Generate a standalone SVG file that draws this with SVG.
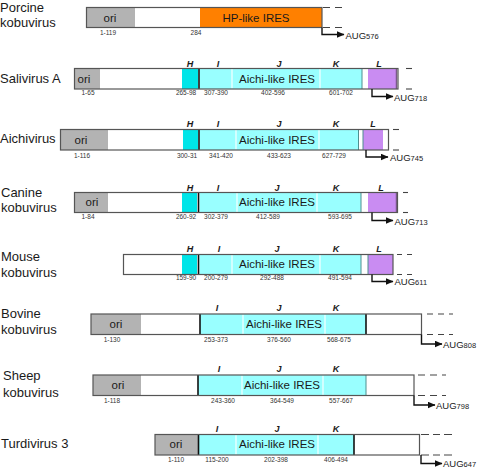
<svg xmlns="http://www.w3.org/2000/svg" width="480" height="468" viewBox="0 0 480 468">
<style>
text{font-family:"Liberation Sans",Arial,sans-serif;fill:#1a1a1a}
.name{font-size:13px}
.lab{font-size:11.5px;text-anchor:middle}
.num{font-size:6.5px;text-anchor:middle;fill:#333}
.let{font-size:9px;font-weight:bold;font-style:italic;text-anchor:middle}
.aug{font-size:9.5px}
.sub{font-size:7.5px}
.bg{fill:#fff}
.ori{fill:#b3b3b3}
.hp{fill:#ff8000}
.h{fill:#00e5e8}
.ires{fill:#99ffff}
.l{fill:#c98cf2}
.ol{fill:none;stroke:#555;stroke-width:1.2}
.sep{stroke:#111;stroke-width:1.6}
.gap{stroke:#eaffff;stroke-width:1.4}
.tl{stroke:#4f8f8f;stroke-width:1}
.pe{stroke:#7a5a8a;stroke-width:1.5}
.dash{stroke:#444;stroke-width:1.1;fill:none}
.arr{fill:none;stroke:#111;stroke-width:1.4}
</style>
<defs>
<marker id="ah" markerUnits="userSpaceOnUse" markerWidth="8" markerHeight="7" refX="7.5" refY="3.5" orient="auto">
<path d="M0,0 L8,3.5 L0,7 Z" fill="#111"/>
</marker>
</defs>

<g id="porcine">
<text class="name" x="0" y="11.5">Porcine</text>
<text class="name" x="0" y="27">kobuvirus</text>
<rect class="bg" x="86.5" y="7.5" width="235.5" height="20"/>
<rect class="ori" x="86.5" y="7.5" width="48.5" height="20"/>
<rect class="hp" x="200" y="7.5" width="122" height="20"/>
<rect class="ol" x="86.5" y="7.5" width="235.5" height="20"/>
<line class="dash" x1="323" y1="7.5" x2="345" y2="7.5" stroke-dasharray="7 5"/>
<line class="dash" x1="323" y1="27.5" x2="345" y2="27.5" stroke-dasharray="7 5"/>
<text class="lab" x="110" y="21.5">ori</text>
<text class="lab" x="256" y="21.5">HP-like IRES</text>
<text class="num" x="108" y="35">1-119</text>
<text class="num" x="196" y="35">284</text>
</g>

<g id="salivirus">
<text class="name" x="0" y="83">Salivirus A</text>
<rect class="bg" x="74.5" y="68.5" width="323" height="20.5"/>
<rect class="ori" x="74.5" y="68.5" width="25.5" height="20.5"/>
<rect class="h" x="182" y="68.5" width="16" height="20.5"/>
<rect class="ires" x="200" y="68.5" width="162" height="20.5"/>
<line class="gap" x1="232" y1="69" x2="232" y2="88.5"/>
<line class="gap" x1="320" y1="69" x2="320" y2="88.5"/>
<line class="sep" x1="199" y1="68.5" x2="199" y2="89"/>
<line class="tl" x1="362" y1="68.5" x2="362" y2="89"/>
<rect class="l" x="368" y="68.5" width="28.5" height="20.5"/>
<line class="pe" x1="396.5" y1="68.5" x2="396.5" y2="89"/>
<rect class="ol" x="74.5" y="68.5" width="323.5" height="20.5"/>
<line class="dash" x1="406" y1="68.5" x2="412" y2="68.5"/>
<line class="dash" x1="406" y1="89" x2="412" y2="89"/>
<text class="lab" x="84" y="82.5">ori</text>
<text class="lab" x="277" y="82.5">Aichi-like IRES</text>
<text class="let" x="190" y="66.5">H</text>
<text class="let" x="218" y="66.5">I</text>
<text class="let" x="279" y="66.5">J</text>
<text class="let" x="336" y="66.5">K</text>
<text class="let" x="379" y="66.5">L</text>
<text class="num" x="88" y="95">1-65</text>
<text class="num" x="186" y="95">265-98</text>
<text class="num" x="216" y="95">307-390</text>
<text class="num" x="273" y="95">402-596</text>
<text class="num" x="341" y="95">601-702</text>
</g>

<g id="aichivirus">
<text class="name" x="0" y="143">Aichivirus</text>
<rect class="bg" x="60.5" y="129.5" width="328" height="20.5"/>
<rect class="ori" x="60.5" y="129.5" width="47.5" height="20.5"/>
<rect class="h" x="183" y="129.5" width="15" height="20.5"/>
<rect class="ires" x="200" y="129.5" width="158" height="20.5"/>
<line class="gap" x1="236" y1="130" x2="236" y2="149.5"/>
<line class="gap" x1="319" y1="130" x2="319" y2="149.5"/>
<line class="sep" x1="199" y1="129.5" x2="199" y2="150"/>
<line class="tl" x1="358.5" y1="129.5" x2="358.5" y2="150"/>
<rect class="l" x="363" y="129.5" width="20" height="20.5"/>
<line class="tl" x1="363" y1="129.5" x2="363" y2="150"/>
<rect class="ol" x="60.5" y="129.5" width="328" height="20.5"/>
<line class="dash" x1="393" y1="129.5" x2="399" y2="129.5"/>
<line class="dash" x1="393" y1="150" x2="399" y2="150"/>
<text class="lab" x="81" y="144">ori</text>
<text class="lab" x="277" y="144">Aichi-like IRES</text>
<text class="let" x="190" y="127">H</text>
<text class="let" x="218" y="127">I</text>
<text class="let" x="279" y="127">J</text>
<text class="let" x="336" y="127">K</text>
<text class="let" x="373" y="127">L</text>
<text class="num" x="82" y="158">1-116</text>
<text class="num" x="187" y="158">300-31</text>
<text class="num" x="221" y="158">341-420</text>
<text class="num" x="279" y="158">433-623</text>
<text class="num" x="334" y="158">627-729</text>
</g>

<g id="canine">
<text class="name" x="1" y="196.5">Canine</text>
<text class="name" x="1" y="212">kobuvirus</text>
<rect class="bg" x="74.5" y="192.5" width="323" height="20"/>
<rect class="ori" x="74.5" y="192.5" width="33.5" height="20"/>
<rect class="h" x="182" y="192.5" width="15" height="20"/>
<rect class="ires" x="199.5" y="192.5" width="161.5" height="20"/>
<line class="gap" x1="237" y1="193" x2="237" y2="212"/>
<line class="gap" x1="317" y1="193" x2="317" y2="212"/>
<line class="sep" x1="198.5" y1="192.5" x2="198.5" y2="212.5"/>
<line class="tl" x1="361" y1="192.5" x2="361" y2="212.5"/>
<rect class="l" x="368" y="192.5" width="28.5" height="20"/>
<line class="pe" x1="396.5" y1="192.5" x2="396.5" y2="212.5"/>
<rect class="ol" x="74.5" y="192.5" width="323" height="20"/>
<line class="dash" x1="403" y1="192.5" x2="408" y2="192.5"/>
<line class="dash" x1="403" y1="212.5" x2="408" y2="212.5"/>
<text class="lab" x="92" y="206">ori</text>
<text class="lab" x="277" y="206">Aichi-like IRES</text>
<text class="let" x="190" y="190.5">H</text>
<text class="let" x="218" y="190.5">I</text>
<text class="let" x="277" y="190.5">J</text>
<text class="let" x="336" y="190.5">K</text>
<text class="let" x="381" y="190.5">L</text>
<text class="num" x="88" y="219">1-84</text>
<text class="num" x="186" y="219">260-92</text>
<text class="num" x="216" y="219">302-379</text>
<text class="num" x="268" y="219">412-589</text>
<text class="num" x="340" y="219">593-695</text>
</g>

<g id="mouse">
<text class="name" x="1" y="261">Mouse</text>
<text class="name" x="1" y="277">kobuvirus</text>
<rect class="bg" x="123.5" y="254.5" width="269.5" height="20"/>
<rect class="h" x="182" y="254.5" width="15" height="20"/>
<rect class="ires" x="199.5" y="254.5" width="161.5" height="20"/>
<line class="gap" x1="232" y1="255" x2="232" y2="274"/>
<line class="gap" x1="320" y1="255" x2="320" y2="274"/>
<line class="sep" x1="198.5" y1="254.5" x2="198.5" y2="274.5"/>
<line class="tl" x1="361" y1="254.5" x2="361" y2="274.5"/>
<rect class="l" x="368" y="254.5" width="25" height="20"/>
<line class="tl" x1="368" y1="254.5" x2="368" y2="274.5"/>
<rect class="ol" x="123.5" y="254.5" width="269.5" height="20"/>
<line class="dash" x1="397" y1="254.5" x2="413" y2="254.5" stroke-dasharray="5 5"/>
<line class="dash" x1="397" y1="274.5" x2="413" y2="274.5" stroke-dasharray="5 5"/>
<text class="lab" x="277" y="268">Aichi-like IRES</text>
<text class="let" x="190" y="251.5">H</text>
<text class="let" x="219" y="251.5">I</text>
<text class="let" x="277" y="251.5">J</text>
<text class="let" x="336" y="251.5">K</text>
<text class="let" x="379" y="251.5">L</text>
<text class="num" x="186" y="280">159-90</text>
<text class="num" x="216" y="280">200-279</text>
<text class="num" x="272" y="280">292-488</text>
<text class="num" x="340" y="280">491-594</text>
</g>

<g id="bovine">
<text class="name" x="1" y="318">Bovine</text>
<text class="name" x="1" y="334">kobuvirus</text>
<rect class="bg" x="91" y="314" width="330.5" height="20.5"/>
<rect class="ori" x="91" y="314" width="50" height="20.5"/>
<rect class="ires" x="200" y="314" width="166" height="20.5"/>
<line class="gap" x1="243" y1="314.5" x2="243" y2="334"/>
<line class="gap" x1="325" y1="314.5" x2="325" y2="334"/>
<line class="sep" x1="200" y1="314" x2="200" y2="334.5"/>
<line class="sep" x1="366" y1="314" x2="366" y2="334.5"/>
<rect class="ol" x="91" y="314" width="330.5" height="20.5"/>
<line class="dash" x1="427" y1="314" x2="453" y2="314" stroke-dasharray="6 5"/>
<line class="dash" x1="427" y1="334.5" x2="453" y2="334.5" stroke-dasharray="6 5"/>
<text class="lab" x="116" y="328">ori</text>
<text class="lab" x="284" y="328">Aichi-like IRES</text>
<text class="let" x="217" y="310.5">I</text>
<text class="let" x="279" y="310.5">J</text>
<text class="let" x="336" y="310.5">K</text>
<text class="num" x="112" y="342">1-130</text>
<text class="num" x="216" y="342">253-373</text>
<text class="num" x="279" y="342">376-560</text>
<text class="num" x="339" y="342">568-675</text>
</g>

<g id="sheep">
<text class="name" x="3" y="380">Sheep</text>
<text class="name" x="3" y="396.5">kobuvirus</text>
<rect class="bg" x="93" y="375" width="321" height="20.5"/>
<rect class="ori" x="93" y="375" width="48" height="20.5"/>
<rect class="ires" x="198" y="375" width="168" height="20.5"/>
<line class="gap" x1="242" y1="375.5" x2="242" y2="395"/>
<line class="gap" x1="323" y1="375.5" x2="323" y2="395"/>
<line class="sep" x1="198" y1="375" x2="198" y2="395.5"/>
<line class="tl" x1="366" y1="375" x2="366" y2="395.5"/>
<rect class="ol" x="93" y="375" width="321" height="20.5"/>
<line class="dash" x1="418" y1="375" x2="446" y2="375" stroke-dasharray="7 5"/>
<line class="dash" x1="418" y1="395.5" x2="446" y2="395.5" stroke-dasharray="7 5"/>
<text class="lab" x="118" y="389">ori</text>
<text class="lab" x="282" y="389">Aichi-like IRES</text>
<text class="let" x="219" y="371.5">I</text>
<text class="let" x="279" y="371.5">J</text>
<text class="let" x="336" y="371.5">K</text>
<text class="num" x="112" y="403">1-118</text>
<text class="num" x="223" y="403">243-360</text>
<text class="num" x="282" y="403">364-549</text>
<text class="num" x="341" y="403">557-667</text>
</g>

<g id="turdivirus">
<text class="name" x="1" y="448">Turdivirus 3</text>
<rect class="bg" x="155" y="434.5" width="264.5" height="20.5"/>
<rect class="ori" x="155" y="434.5" width="43" height="20.5"/>
<rect class="ires" x="199" y="434.5" width="155" height="20.5"/>
<line class="gap" x1="236" y1="435" x2="236" y2="454.5"/>
<line class="gap" x1="318" y1="435" x2="318" y2="454.5"/>
<line class="sep" x1="198.5" y1="434.5" x2="198.5" y2="455"/>
<line class="sep" x1="354" y1="434.5" x2="354" y2="455"/>
<rect class="ol" x="155" y="434.5" width="264.5" height="20.5"/>
<line class="dash" x1="421" y1="434.5" x2="452" y2="434.5" stroke-dasharray="8 4 7 4"/>
<line class="dash" x1="421" y1="455" x2="452" y2="455" stroke-dasharray="8 4 7 4"/>
<text class="lab" x="176" y="448">ori</text>
<text class="lab" x="277" y="448">Aichi-like IRES</text>
<text class="let" x="217" y="431.5">I</text>
<text class="let" x="277" y="431.5">J</text>
<text class="let" x="336" y="431.5">K</text>
<text class="num" x="176" y="461.5">1-110</text>
<text class="num" x="217" y="461.5">115-200</text>
<text class="num" x="276" y="461.5">202-398</text>
<text class="num" x="336" y="461.5">406-494</text>
</g>

<g id="connectors">
<path class="arr" d="M322,27.5 V34.5 H344" marker-end="url(#ah)"/>
<text class="aug" x="345.5" y="39">AUG<tspan class="sub">576</tspan></text>
<path class="arr" d="M372,89 V96.5 H393" marker-end="url(#ah)"/>
<text class="aug" x="394" y="100.5">AUG<tspan class="sub">718</tspan></text>
<path class="arr" d="M366,150 V157 H388" marker-end="url(#ah)"/>
<text class="aug" x="390" y="160.5">AUG<tspan class="sub">745</tspan></text>
<path class="arr" d="M372,212.5 V220.5 H393" marker-end="url(#ah)"/>
<text class="aug" x="394.5" y="224.5">AUG<tspan class="sub">713</tspan></text>
<path class="arr" d="M372,274.5 V281.5 H393" marker-end="url(#ah)"/>
<text class="aug" x="394.5" y="285">AUG<tspan class="sub">611</tspan></text>
<path class="arr" d="M421.5,334.5 V344 H442" marker-end="url(#ah)"/>
<text class="aug" x="443" y="347.5">AUG<tspan class="sub">808</tspan></text>
<path class="arr" d="M414,395.5 V405 H435" marker-end="url(#ah)"/>
<text class="aug" x="436" y="408.5">AUG<tspan class="sub">798</tspan></text>
<path class="arr" d="M421,455 V463.5 H442" marker-end="url(#ah)"/>
<text class="aug" x="443" y="467">AUG<tspan class="sub">647</tspan></text>
</g>
</svg>
